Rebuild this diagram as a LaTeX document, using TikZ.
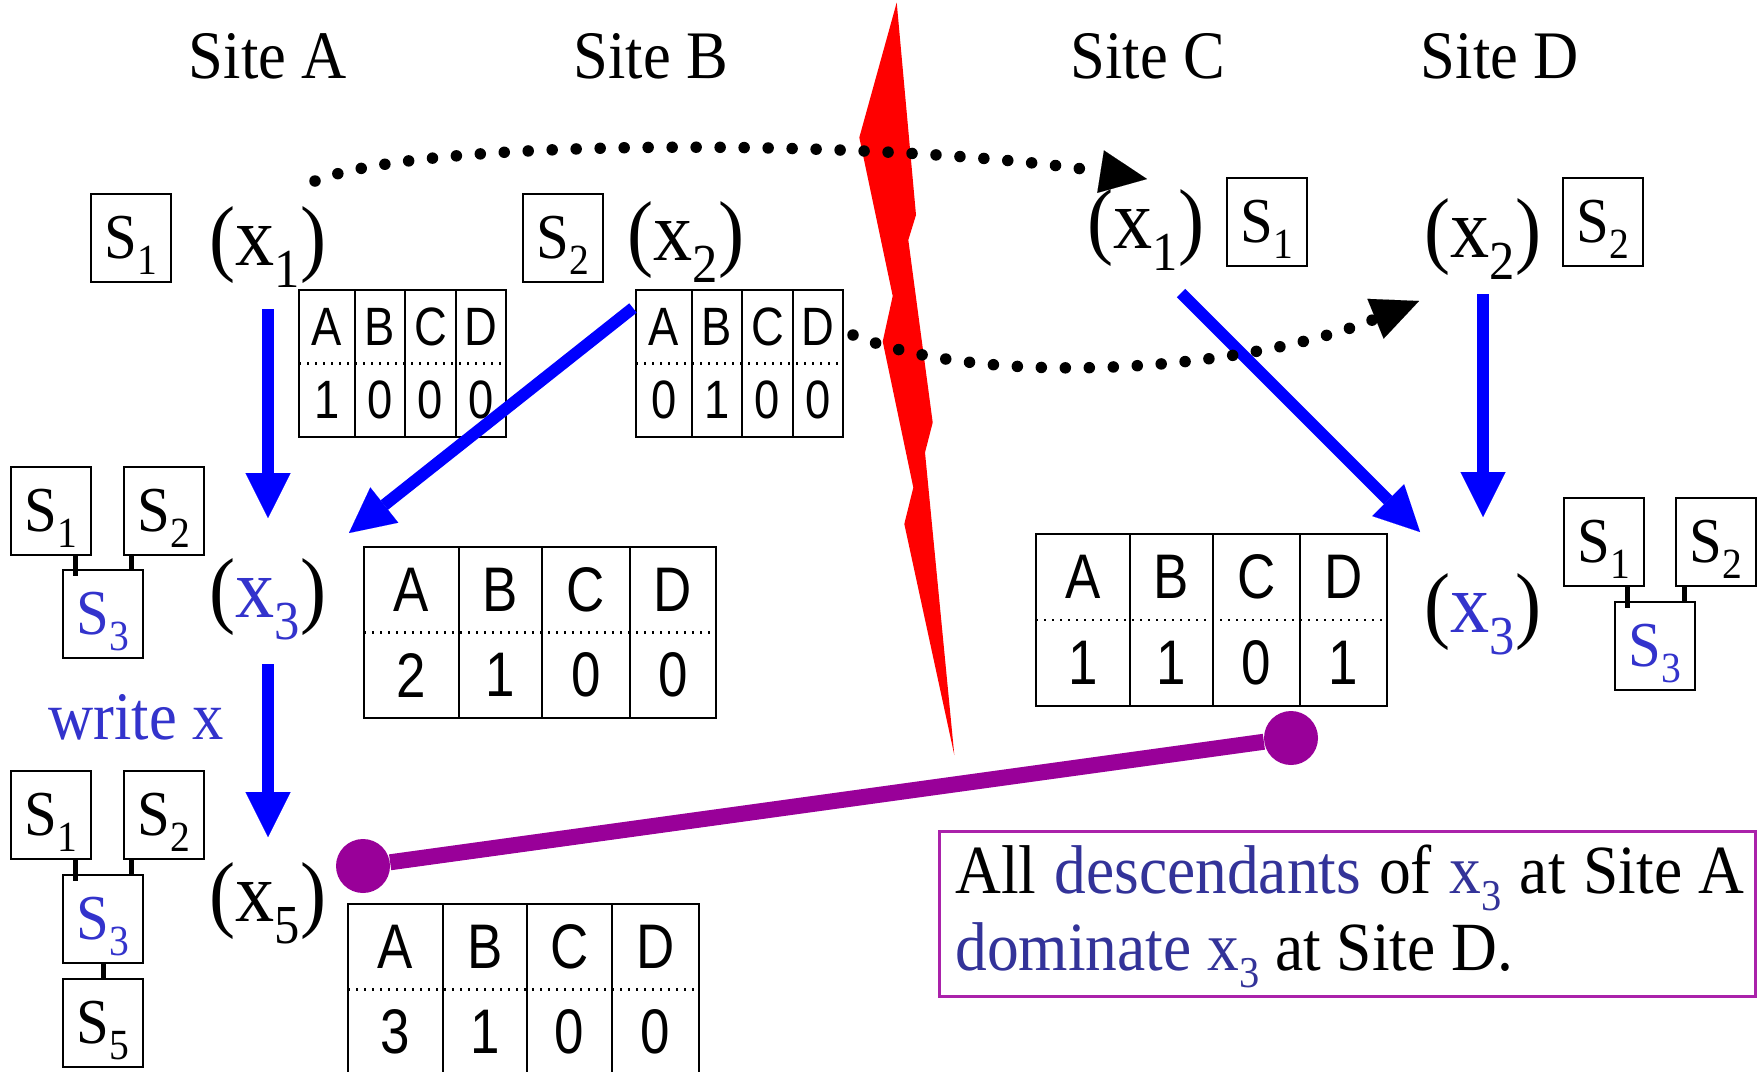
\documentclass[tikz,border=0pt]{standalone}
\usepackage{fontspec}
\setmainfont{Liberation Serif}[FakeStretch=0.92]
\newfontfamily\nsans{Liberation Sans}[FakeStretch=0.84]
\usetikzlibrary{arrows.meta}
\definecolor{bblue}{RGB}{0,0,255}
\definecolor{tblue}{RGB}{51,51,204}
\definecolor{mblue}{RGB}{51,51,153}
\definecolor{ppl}{RGB}{153,0,153}
\definecolor{bolt}{RGB}{255,0,0}
\definecolor{frm}{RGB}{170,34,170}
\newcommand{\subs}[3]{\raisebox{-#2}{\fontsize{#1}{#1}\selectfont #3}}
\newcommand{\fsite}{\fontsize{34}{34}\selectfont}
\newcommand{\fmsg}{\fontsize{34.5}{34.5}\selectfont}
\newcommand{\fx}{\fontsize{42.5}{42.5}\selectfont}
\newcommand{\fs}{\fontsize{32}{32}\selectfont}
\newcommand{\tsmall}{\nsans\fontsize{27}{27}\selectfont}
\newcommand{\tlarge}{\nsans\fontsize{31.5}{31.5}\selectfont}
\newcommand{\xs}[1]{x\subs{27.5pt}{11pt}{#1}}
\newcommand{\xm}[1]{x\subs{22pt}{8.5pt}{#1}}
\newcommand{\mkS}[5]{%
  \node[sframe] (#1) at (#2,#3) {};
  \node[anchor=base, inner sep=0pt, font=\fs, text=#5] (#1-t) at (#2,{#3+20}) {S\subs{21.5pt}{8pt}{#4}};}
\newcommand{\vtab}[7]{%
  \coordinate (#1) at (#2,#3);
  \draw[tabline] (#2,#3) rectangle ({#2+#7},{#3+2*#4});
  \draw[rowline] (#2,{#3+#4}) -- ({#2+#7},{#3+#4});
  \foreach \cl/\cv/\ca/\cb [count=\ci] in {#6}{%
    \ifnum\ci>1 \draw[tabline] ({#2+\ca},#3) -- ({#2+\ca},{#3+2*#4});\fi
    \node[font=#5, inner sep=0pt] (#1-L\ci) at ({#2+(\ca+\cb)/2},{#3+#4/2}) {\cl};
    \node[font=#5, inner sep=0pt] (#1-V\ci) at ({#2+(\ca+\cb)/2},{#3+1.5*#4}) {\cv};
  }}
\tikzset{
  sframe/.style={draw, line width=1pt, fill=white, minimum width=40pt, minimum height=44pt, inner sep=0pt},
  tabline/.style={line width=1pt},
  rowline/.style={line width=1.2pt, dash pattern=on 1.2pt off 2.8pt},
  barrow/.style={bblue, line width=6pt, -{Triangle[length=22.5pt,width=22.5pt,line width=0.01pt]}},
  darrow/.style={line width=5.75pt, line cap=round, dash pattern=on 0pt off 12pt, -{Triangle[length=23.5pt,width=21.5pt,line width=0.01pt]}},
  tie/.style={line width=2.5pt},
  pdot/.style={circle, fill=ppl, minimum size=27pt, inner sep=0pt},
  lbl/.style={anchor=base, inner sep=0pt},
}
\begin{document}
\begin{tikzpicture}[x=0.5pt,y=-0.5pt]
\useasboundingbox (0,0) rectangle (1764,1071);
\clip (0,0) rectangle (1764,1071);
\fill[white] (0,0) rectangle (1764,1071);
% site labels
\node[lbl, font=\fsite] (siteA) at (268,78) {Site A};
\node[lbl, font=\fsite] (siteB) at (651,78) {Site B};
\node[lbl, font=\fsite] (siteC) at (1148,78) {Site C};
\node[lbl, font=\fsite] (siteD) at (1500,78) {Site D};
% lightning
\fill[bolt] (896.7,2.5) -- (916,215) -- (908.3,240) -- (932.7,422.5) -- (925,452.5) -- (954.3,755)
  -- (904.3,524) -- (913.3,487.5) -- (882.7,341.5) -- (892.7,296) -- (859.3,137.5) -- cycle;
% top row S boxes and x labels
\mkS{sA1}{131}{238}{1}{black}
\mkS{sB2}{563}{238}{2}{black}
\mkS{sC1}{1267}{222}{1}{black}
\mkS{sD2}{1603}{222}{2}{black}
\node[lbl, font=\fx] (x1L) at (268,265) {(\xs{1})};
\node[lbl, font=\fx] (x2L) at (686,260) {(\xs{2})};
\node[lbl, font=\fx] (x1R) at (1146,248) {(\xs{1})};
\node[lbl, font=\fx] (x2R) at (1483,257) {(\xs{2})};
\node[lbl, font=\fx] (x3L) at (268,617) {(\textcolor{tblue}{\xs{3}})};
\node[lbl, font=\fx] (x5L) at (268,921) {(\xs{5})};
\node[lbl, font=\fx] (x3R) at (1483,632) {(\textcolor{tblue}{\xs{3}})};
% tables
\vtab{t1}{299}{290}{73.5}{\tsmall}{A/1/0/56,B/0/56/106,C/0/106/157,D/0/157/207}{207}
\vtab{t2}{636}{290}{73.5}{\tsmall}{A/0/0/56,B/1/56/106,C/0/106/157,D/0/157/207}{207}
\vtab{t3}{364}{547}{85.5}{\tlarge}{A/2/0/95,B/1/95/178,C/0/178/266,D/0/266/352}{352}
\vtab{t4}{348}{904}{85.5}{\tlarge}{A/3/0/95,B/1/95/179,C/0/179/264,D/0/264/351}{351}
\vtab{tR}{1036}{534}{86}{\tlarge}{A/1/0/94,B/1/94/177,C/0/177/264,D/1/264/351}{351}
% left middle tree
\mkS{s1m}{51}{511}{1}{black}
\mkS{s2m}{164}{511}{2}{black}
\mkS{s3m}{103}{614}{3}{tblue}
\draw[tie] ([xshift=12pt]s1m.south) -- ([xshift=12pt]s1m.south |- s3m.north) -- ++(0,7);
\draw[tie] ([xshift=-16.5pt]s2m.south) -- ([xshift=-16.5pt]s2m.south |- s3m.north);
% left lower tree
\mkS{s1l}{51}{815}{1}{black}
\mkS{s2l}{164}{815}{2}{black}
\mkS{s3l}{103}{919}{3}{tblue}
\mkS{s5l}{103}{1023}{5}{black}
\draw[tie] ([xshift=12pt]s1l.south) -- ([xshift=12pt]s1l.south |- s3l.north) -- ++(0,7);
\draw[tie] ([xshift=-16.5pt]s2l.south) -- ([xshift=-16.5pt]s2l.south |- s3l.north);
\draw[tie] (s3l.south) -- (s5l.north);
% right tree
\mkS{s1r}{1604}{542}{1}{black}
\mkS{s2r}{1716}{542}{2}{black}
\mkS{s3r}{1655}{646}{3}{tblue}
\draw[tie] ([xshift=11.5pt]s1r.south) -- ([xshift=11.5pt]s1r.south |- s3r.north) -- ++(0,7);
\draw[tie] ([xshift=-16pt]s2r.south) -- ([xshift=-16pt]s2r.south |- s3r.north);
% write x
\node[lbl, font=\fsite, text=tblue] (wx) at (136,739) {write x};
% blue arrows
\coordinate (a1s) at (268,309); \coordinate (a1e) at (268,518);
\coordinate (a2s) at (633,308); \coordinate (a2e) at (349,533);
\coordinate (a3s) at (268,664); \coordinate (a3e) at (268,837);
\coordinate (aCs) at (1181,293); \coordinate (aCe) at (1420,532);
\coordinate (aDs) at (1483,294); \coordinate (aDe) at (1483,517);
\draw[barrow] (a1s) -- (a1e);
\draw[barrow] (a2s) -- (a2e);
\draw[barrow] (a3s) -- (a3e);
\draw[barrow] (aCs) -- (aCe);
\draw[barrow] (aDs) -- (aDe);
% dotted arrows
\coordinate (d1s) at (315,181); \coordinate (d1e) at (1147,179);
\coordinate (d2s) at (853,335); \coordinate (d2e) at (1419,301);
\draw[darrow] (d1s) .. controls (430,135) and (900,140) .. (d1e);
\draw[darrow] (d2s) .. controls (990,390) and (1250,370) .. (d2e);
% purple link
\node[pdot] (p1) at (363,866) {};
\node[pdot] (p2) at (1291,738) {};
\draw[ppl, line width=8pt] (p1) -- (p2);
% message
\node[draw=frm, line width=1.5pt, minimum width=408pt, minimum height=82.5pt, inner sep=0pt] (msg) at (1347,913.5) {};
\node[anchor=base west, inner sep=0pt, font=\fmsg] (m1) at (955,893) {All\hspace{0.03em} \textcolor{mblue}{descendants}\hspace{0.03em} of\hspace{0.03em} \textcolor{mblue}{\xm{3}}\hspace{0.03em} at\hspace{0.03em} Site A};
\node[anchor=base west, inner sep=0pt, font=\fmsg] (m2) at (955,970) {\textcolor{mblue}{dominate \xm{3}} at Site D.};
\end{tikzpicture}
\end{document}
